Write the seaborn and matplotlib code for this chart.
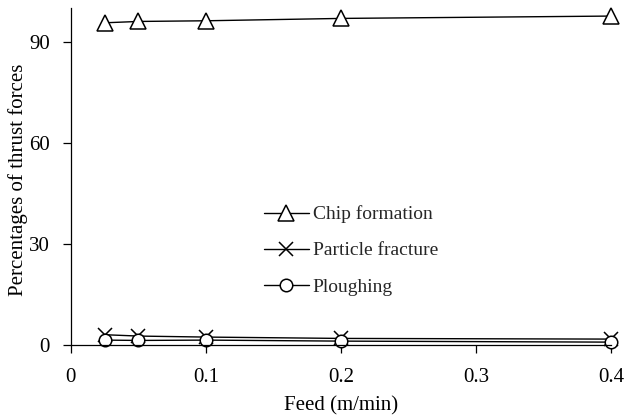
import pandas as pd
import matplotlib.pyplot as plt
import seaborn as sns

sns.set_theme(style="ticks")
plt.rcParams["font.family"] = ["Liberation Serif", "DejaVu Serif"]

# data
feed = [0.025, 0.05, 0.1, 0.2, 0.4]
chip_formation = [95.6, 96.0, 96.2, 96.9, 97.6]
particle_fracture = [3.0, 2.6, 2.3, 1.9, 1.7]
ploughing = [1.4, 1.3, 1.4, 1.1, 0.8]

series = {
    "Chip formation": (chip_formation, "^", 11),
    "Particle fracture": (particle_fracture, "x", 10),
    "Ploughing": (ploughing, "o", 9),
}

fig = plt.figure(figsize=(6.44, 4.2), dpi=100)
ax = fig.add_axes([0.110, 0.179, 0.839, 0.802])

for name, (vals, mk, ms) in series.items():
    df = pd.DataFrame({"feed": feed, "pct": vals})
    sns.lineplot(data=df, x="feed", y="pct", ax=ax, color="black", lw=1,
                 marker=mk, markersize=ms, markerfacecolor="white",
                 markeredgecolor="black", markeredgewidth=1.1,
                 label=name, clip_on=False)

ax.set_xlim(0, 0.4)
ax.set_ylim(0, 100)
ax.set_xticks([0, 0.1, 0.2, 0.3, 0.4])
ax.set_xticklabels(["0", "0.1", "0.2", "0.3", "0.4"])
ax.set_yticks([0, 30, 60, 90])
ax.tick_params(axis="both", labelsize=15, colors="black", length=6, width=0.9,
               direction="out", pad=9)
ax.tick_params(axis="x", pad=11)
for s in ["top", "right"]:
    ax.spines[s].set_visible(False)
for s in ["left", "bottom"]:
    ax.spines[s].set_color("black")
    ax.spines[s].set_linewidth(0.9)

ax.set_xlabel("Feed (m/min)", fontsize=15, labelpad=6, color="black")
ax.set_ylabel("Percentages of thrust forces", fontsize=15, color="black")
ax.yaxis.set_label_coords(-0.080, 0.49)

ax.legend(loc="center left", bbox_to_anchor=(0.325, 0.28), frameon=False,
          fontsize=14, handlelength=2.3, handletextpad=0.2, labelspacing=0.95)

plt.savefig("out.png", dpi=100)
